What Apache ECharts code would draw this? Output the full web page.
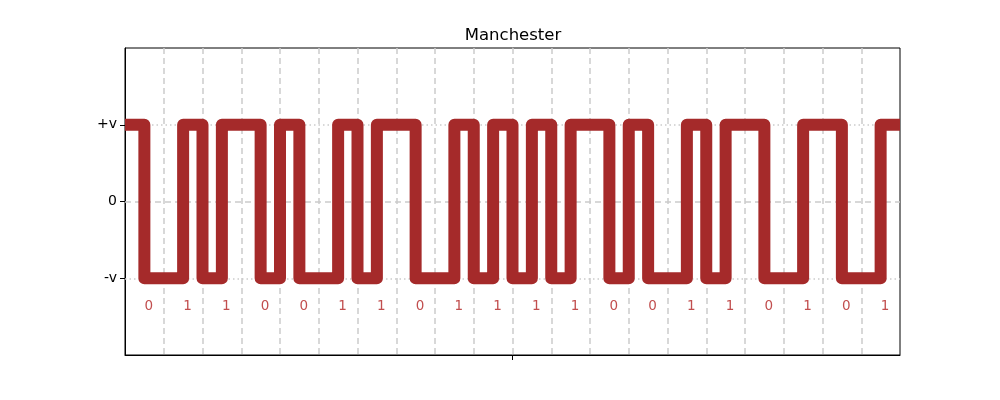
<!DOCTYPE html>
<html>
<head>
<meta charset="utf-8">
<script src="https://cdn.jsdelivr.net/npm/echarts@6/dist/echarts.min.js"></script>
<style>html,body{margin:0;padding:0;background:#fff}#c{width:1000px;height:400px}</style>
</head>
<body>
<div id="c"></div>
<script>
var bits = [0,1,1,0,0,1,1,0,1,1,1,1,0,0,1,1,0,1,0,1];
// signal level per half bit (Manchester: 0 -> high,low ; 1 -> low,high)
var levels = [
  1,-1, -1,1, -1,1, 1,-1, 1,-1, -1,1, -1,1, 1,-1, -1,1, -1,1,
  -1,1, -1,1, 1,-1, 1,-1, -1,1, -1,1, 1,-1, -1,1, 1,-1, -1,1
];
var yTickValues = [-1, 0, 1];
var yTickLabels = ['-v', '0', '+v'];
var xTickValues = [10];
var title = 'Manchester';

var lineData = levels.map(function (v, i) { return [i * 0.5, v]; });
lineData.push([levels.length * 0.5, levels[levels.length - 1]]);
var labelData = bits.map(function (b, i) { return [i + 0.5, -1.37, String(b)]; });

var font = 'DejaVu Sans';
var gridColor = '#cccccc';
var chart = echarts.init(document.getElementById('c'), null, {renderer: 'canvas'});
chart.setOption({
  animation: false,
  title: {text: title, left: 508, textAlign: 'center', top: 22, textStyle: {fontFamily: font, fontSize: 16.5, fontWeight: 'normal', color: '#000'}},
  grid: {left: 125, right: 100, top: 48, bottom: 45, show: true, borderColor: '#000', borderWidth: 1, backgroundColor: 'transparent'},
  xAxis: [{
    type: 'value', min: 0, max: 20, interval: 1,
    axisLine: {show: true, onZero: false, lineStyle: {color: '#000', width: 1}},
    axisTick: {show: true, customValues: xTickValues, length: 5, lineStyle: {color: '#000'}},
    axisLabel: {show: false},
    splitLine: {show: false}
  }, {
    type: 'value', min: 0, max: 20, interval: 1, position: 'bottom',
    axisLine: {show: false}, axisTick: {show: false}, axisLabel: {show: false},
    splitLine: {show: true, showMinLine: false, showMaxLine: false, lineStyle: {color: gridColor, width: 1.5, type: [6, 4]}}
  }],
  yAxis: {
    type: 'value', min: -2, max: 2, interval: 1,
    axisLine: {show: true, onZero: false, lineStyle: {color: '#000', width: 1}},
    axisTick: {show: true, customValues: yTickValues, length: 5, lineStyle: {color: '#000'}},
    axisLabel: {show: true, customValues: yTickValues, margin: 8, fontFamily: font, fontSize: 14, color: '#000',
      formatter: function (v) { var k = yTickValues.indexOf(v); return k >= 0 ? yTickLabels[k] : ''; }},
    splitLine: {show: false}
  },
  series: [
    {
      type: 'line', silent: true, data: [], xAxisIndex: 0,
      markLine: {silent: true, symbol: 'none', label: {show: false},
        data: [
          {yAxis: 1, lineStyle: {color: gridColor, width: 1.5, type: [1.5, 3]}},
          {yAxis: -1, lineStyle: {color: gridColor, width: 1.5, type: [1.5, 3]}},
          {yAxis: 0, lineStyle: {color: gridColor, width: 1.5, type: [6, 4]}}
        ]}
    },
    {
      type: 'line', step: 'end', data: lineData, showSymbol: false, symbol: 'none',
      clip: true, z: 5, xAxisIndex: 0,
      lineStyle: {color: '#a52a2a', width: 12, join: 'round', cap: 'butt'}
    },
    {
      type: 'scatter', data: labelData, symbolSize: 0, z: 6, xAxisIndex: 0,
      label: {show: true, position: 'inside', align: 'left', verticalAlign: 'middle', fontFamily: font, fontSize: 13.5, color: '#b22222',
        formatter: function (p) { return p.data[2]; }}
    }
  ]
});
</script>
</body>
</html>
